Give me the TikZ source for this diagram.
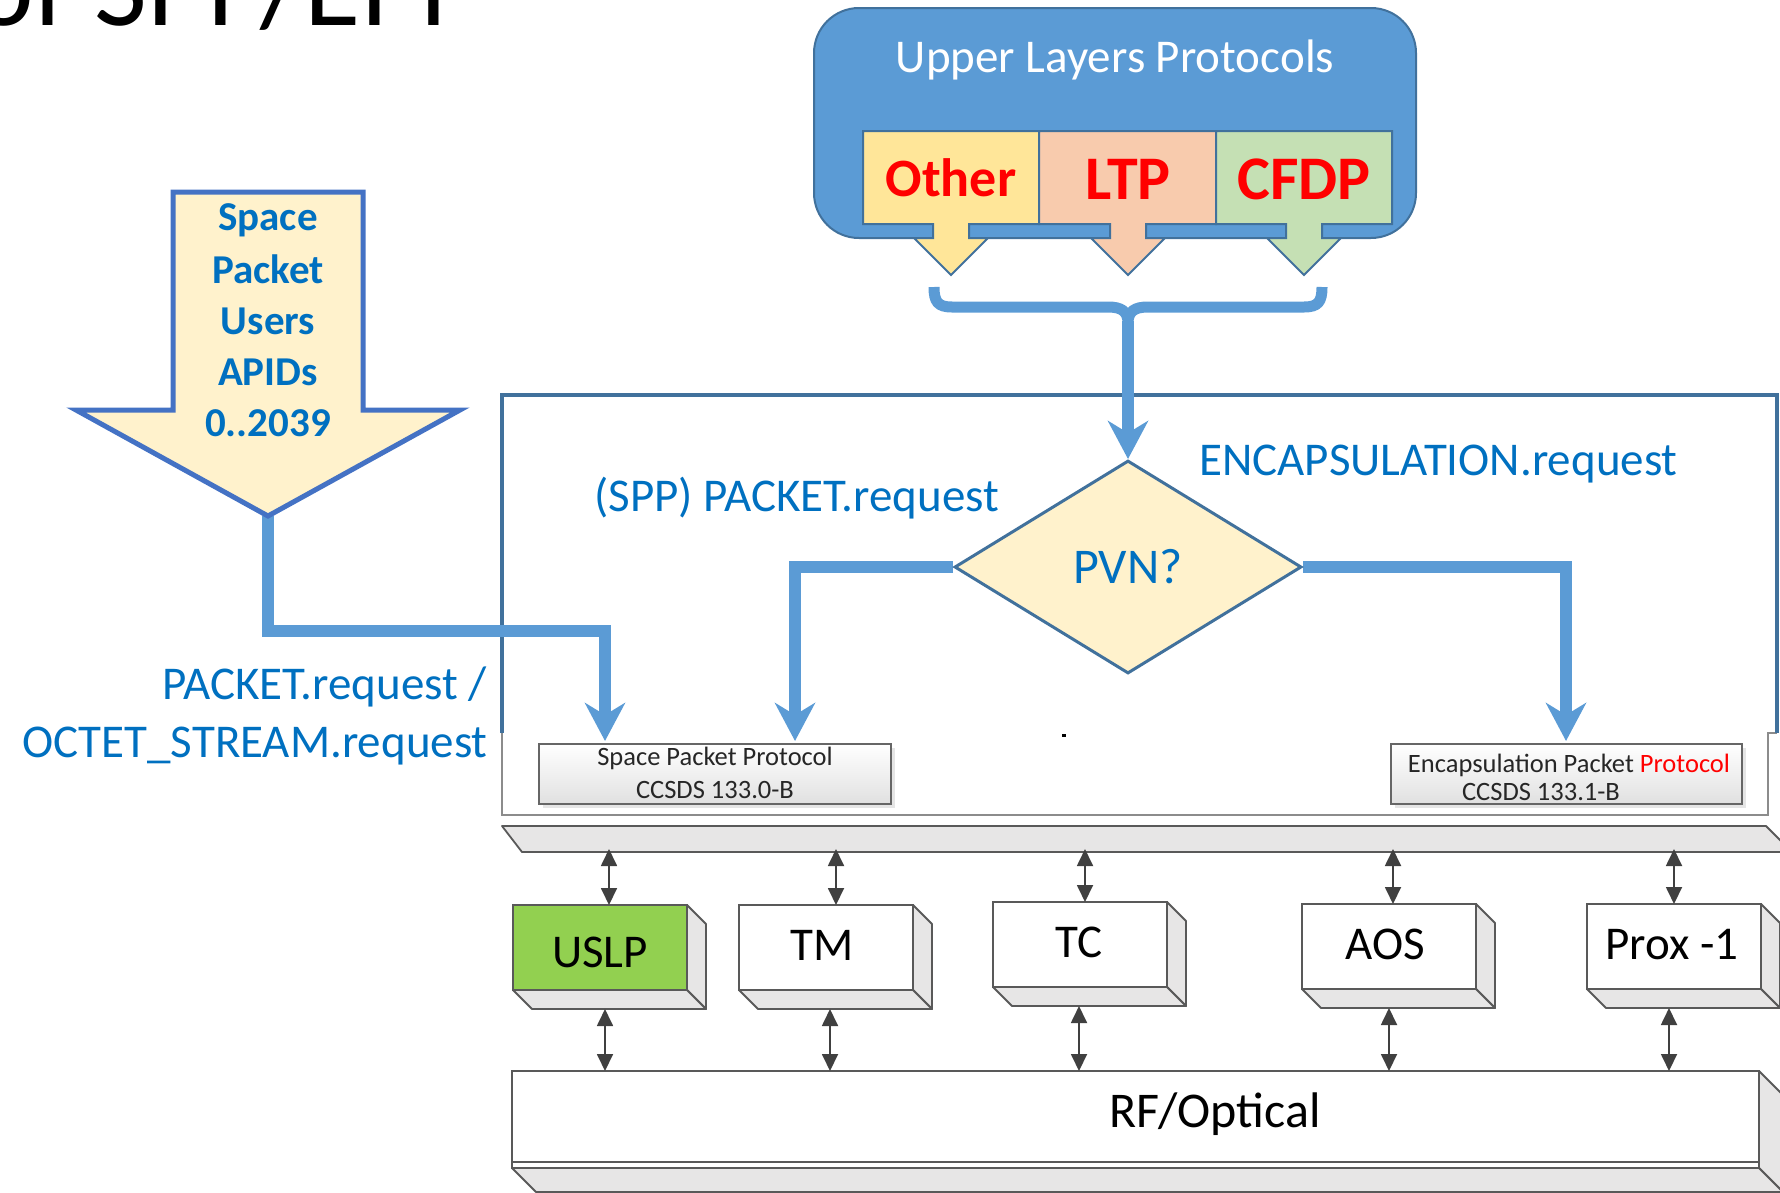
\documentclass[tikz,border=0pt]{standalone}
\usepackage{fontspec}
\setmainfont{Carlito}
\usetikzlibrary{arrows.meta,shapes.geometric,calc}
\pgfdeclarelayer{fg}
\pgfsetlayers{main,fg}
\definecolor{offblue}{HTML}{5B9BD5}
\definecolor{edgeblue}{HTML}{41719C}
\definecolor{txtblue}{HTML}{0070C0}
\definecolor{arrowedge}{HTML}{4472C4}
\definecolor{paleyellow}{HTML}{FFF2CC}
\definecolor{othfill}{HTML}{FFE699}
\definecolor{ltpfill}{HTML}{F8CBAD}
\definecolor{cfdpfill}{HTML}{C5E0B4}
\definecolor{uslpgreen}{HTML}{92D050}
\definecolor{facegray}{HTML}{E7E6E6}
\definecolor{edgegray}{HTML}{595959}
\definecolor{arrowgray}{HTML}{404040}
\newcommand{\fsz}[1]{\fontsize{#1}{#1}\selectfont}
\newcommand{\layerbox}[7]{%
  \node[front, fill=#4] (#1) at (#2,#3) {};
  \draw[face] (#1.north east) -- ++(19,19) -- ($(#1.south east)+(19,19)$) -- (#1.south east) -- cycle;
  \draw[face] (#1.south west) -- (#1.south east) -- ++(19,19) -- ($(#1.south west)+(19,19)$) -- cycle;
  \node[lbl] (#1-t) at (#6,#7) {#5};}
\newcommand{\callout}[4]{%
  \draw[callout, fill=#4] (#1,131) -- (#2,131) -- (#2,224) -- (#3+18,224) -- (#3+18,238) -- (#3+37,238) -- (#3,275) -- (#3-37,238) -- (#3-18,238) -- (#3-18,224) -- (#1,224) -- cycle;}
\begin{document}
\begin{tikzpicture}[x=1pt,y=-1pt,
  conn/.style={draw=offblue, line width=12pt, line join=miter, -{Stealth[length=38pt,width=40pt,inset=12pt]}},
  dbl/.style={draw=arrowgray, line width=1.8pt, {Triangle[length=17pt,width=16pt]}-{Triangle[length=17pt,width=16pt]}},
  face/.style={fill=facegray, draw=edgegray, line width=1.8pt, line join=round},
  front/.style={draw=edgegray, line width=1.8pt, minimum width=174pt, minimum height=85pt, inner sep=0pt, outer sep=0pt, anchor=north west},
  lbl/.style={font=\fsz{47}, anchor=base, inner sep=0pt, text=black},
  btxt/.style={font=\fsz{47}, text=txtblue, inner sep=0pt},
  utxt/.style={font=\bfseries\fsz{41}, text=txtblue, anchor=base, inner sep=0pt},
  ptxt/.style={font=\fsz{26.5}, text=black!85, anchor=base, inner sep=0pt},
  pbox/.style={draw=black!60, line width=1.5pt, top color=white, bottom color=black!12, minimum height=60pt, inner sep=0pt},
  callout/.style={draw=edgeblue, line width=2pt, line join=miter},
  proto/.style={font=\bfseries\fsz{62}, text=red, anchor=base, inner sep=0pt}]
\useasboundingbox (0,0) rectangle (1780,1192);
\begin{scope}
\clip (0,0) rectangle (1780,1192);
% title (cut off at the top)
\node[anchor=base west, font=\fsz{115}, inner sep=0pt] (ttl) at (-27,25) {of SPP/EPP};

% upper layers protocols
\node[draw=edgeblue, fill=offblue, line width=2pt, rounded corners=45pt, minimum width=602pt, minimum height=230pt, inner sep=0pt, outer sep=0pt, anchor=north west] (ulp) at (814,8) {};
\node[font=\fsz{47}, text=white, anchor=base, inner sep=0pt] (ulp-t) at (1115,72) {Upper Layers Protocols};
\callout{863}{1039}{951}{othfill}
\callout{1039}{1216}{1128}{ltpfill}
\callout{1216}{1392}{1304}{cfdpfill}
\node[proto, font=\bfseries\fsz{54}] (oth) at (951,196) {Other};
\node[proto] (ltp) at (1128,199) {LTP};
\node[proto] (cfdp) at (1304,199) {CFDP};

% brace
\draw[offblue, line width=11pt] (934,287) .. controls (934,302) and (938,307) .. (952,307) -- (1108,307) .. controls (1121,307) and (1128,311) .. (1128,323) .. controls (1128,311) and (1135,307) .. (1148,307) -- (1304,307) .. controls (1318,307) and (1322,302) .. (1322,287);
\coordinate (bracetip) at (1128,321);

% frame
\draw[black!45, line width=1.5pt] (502,700) -- (502,815) -- (1768,815) -- (1768,733) -- (1777,733);
\draw[edgeblue, line width=3.5pt] (502,733) -- (502,395) -- (1777,395) -- (1777,733);
\fill[black] (1062,734) rectangle (1066,737);

% foreground: diamond, users arrow, protocol boxes
\begin{pgfonlayer}{fg}
\node[diamond, draw=edgeblue, fill=paleyellow, line width=3pt, minimum width=347pt, minimum height=213pt, aspect=1.63, inner sep=0pt, font=\fsz{50}, text=txtblue] (pvn) at (1128,567) {PVN?};
\draw[draw=arrowedge, fill=paleyellow, line width=5pt, line join=miter] (173,192) -- (363,192) -- (363,410) -- (460,410) -- (268,516) -- (76,410) -- (173,410) -- cycle;
\node[utxt] (u1) at (268,230) {Space};
\node[utxt] (u2) at (268,283) {Packet};
\node[utxt] (u3) at (268,334) {Users};
\node[utxt] (u4) at (268,385) {APIDs};
\node[utxt] (u5) at (268,436) {0..2039};
\fill[black!10] (543,748) rectangle (895,808);
\node[pbox, minimum width=352pt] (spp) at (715,774) {};
\node[ptxt] (spp1) at (715,765) {Space Packet Protocol};
\node[ptxt] (spp2) at (715,798) {CCSDS 133.0-B};
\fill[black!10] (1395,748) rectangle (1746,808);
\node[pbox, minimum width=351pt] (epp) at (1566.5,774) {};
\node[ptxt] (epp1) at (1569,772) {Encapsulation Packet \textcolor{red}{Protocol}};
\node[ptxt] (epp2) at (1541,800) {CCSDS 133.1-B};
\end{pgfonlayer}
\coordinate (sputip) at (268,516);
\coordinate (bend1) at (268,631);
\coordinate (sppA) at (605,741);
\coordinate (sppB) at (795,741);
\coordinate (eppA) at (1566,741);

% blue connectors
\draw[conn] (bracetip) -- (pvn.north);
\draw[conn] (sputip) -- (bend1) -| (sppA);
\draw[conn] (pvn.west) -| (sppB);
\draw[conn] (pvn.east) -| (eppA);

% blue labels
\node[btxt, anchor=base west] (spplbl) at (594,511) {(SPP) PACKET.request};
\node[btxt, anchor=base west] (enclbl) at (1199,475) {ENCAPSULATION.request};
\node[btxt, anchor=base east] (pk1) at (487,699) {PACKET.request /};
\node[btxt, anchor=base east] (pk2) at (488,757) {OCTET\_STREAM.request};

% lower stack
\draw[face] (502,826) -- (1766,826) -- (1792,852) -- (522,852) -- cycle;
\coordinate (slabbot) at (0,849);
\layerbox{uslp}{513}{905}{uslpgreen}{USLP}{600}{967}
\layerbox{tm}{739}{905}{white}{TM}{822}{960}
\layerbox{tc}{993}{902}{white}{TC}{1079}{957}
\layerbox{aos}{1302}{904}{white}{AOS}{1385}{959}
\layerbox{prox}{1587}{904}{white}{Prox -1}{1672}{959}
\node[front, minimum width=1247pt, minimum height=97pt, fill=white] (rf) at (512,1071) {};
\draw[face] (rf.north east) -- ++(24,24) -- ($(rf.south east)+(24,24)$) -- (rf.south east) -- cycle;
\draw[face] (rf.south west) -- (rf.south east) -- ++(24,24) -- ($(rf.south west)+(24,24)$) -- cycle;
\draw[edgegray, line width=1.8pt] ($(rf.south west)+(0,-6)$) -- ($(rf.south east)+(0,-6)$);
\node[lbl, font=\fsz{50}] (rf-t) at (1215,1127) {RF/Optical};
\foreach \b/\dx in {uslp/9, tm/10, tc/5, aos/4, prox/0} {
  \coordinate (\b-up) at ($(\b.north)+(\dx,0)$);
  \draw[dbl] (\b-up |- slabbot) -- (\b-up);
}
\foreach \b/\dx in {uslp/5, tm/4, tc/-1, aos/0, prox/-5} {
  \coordinate (\b-dn) at ($(\b.south)+(\dx,19)$);
  \draw[dbl] (\b-dn) -- (\b-dn |- rf.north);
}
\end{scope}
\end{tikzpicture}
\end{document}
